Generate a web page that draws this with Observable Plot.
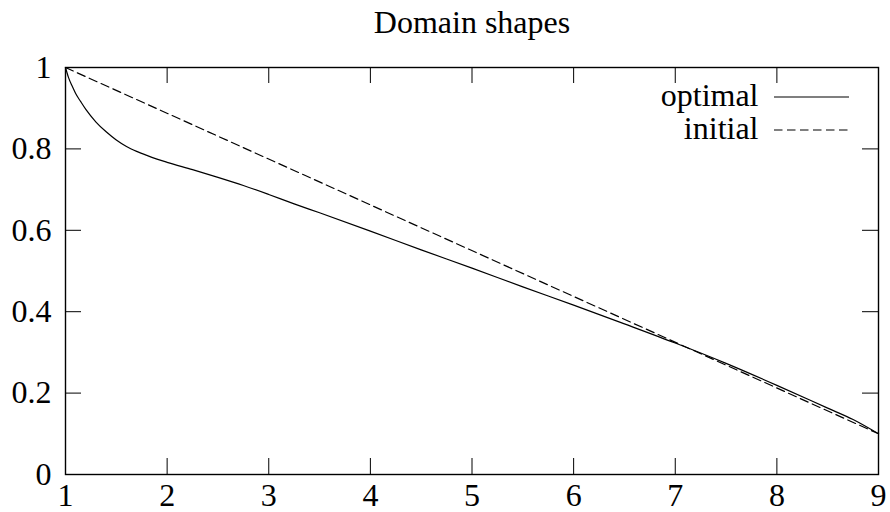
<!DOCTYPE html>
<html><head><meta charset="utf-8">
<script src="https://cdn.jsdelivr.net/npm/d3@7"></script>
<script src="https://cdn.jsdelivr.net/npm/@observablehq/plot@0.6"></script>
<style>body{margin:0;background:#fff;}</style>
</head><body><div id="chart"></div>
<script>
const title = "Domain shapes";
const seriesNames = ["optimal", "initial"];
const optimalX = [1, 1.03, 1.07, 1.1, 1.15, 1.2, 1.3, 1.4, 1.5, 1.6, 1.7, 1.8, 1.9, 2, 2.25, 2.5, 2.75, 3, 3.25, 3.5, 4, 4.5, 5, 5.5, 6, 6.5, 7, 7.5, 8, 8.5, 8.75, 9];
const optimalY = [1, 0.975, 0.952, 0.936, 0.916, 0.897, 0.866, 0.842, 0.822, 0.806, 0.794, 0.784, 0.775, 0.767, 0.749, 0.730, 0.710, 0.688, 0.665, 0.643, 0.598, 0.552, 0.507, 0.461, 0.416, 0.370, 0.323, 0.273, 0.219, 0.163, 0.135, 0.1];
const initialX = [1, 9];
const initialY = [1, 0.1];
const xTicks = [1, 2, 3, 4, 5, 6, 7, 8, 9];
const yTicks = [0, 0.2, 0.4, 0.6, 0.8, 1];
const yTickLabels = ["0", "0.2", "0.4", "0.6", "0.8", "1"];

const optimal = optimalX.map((x, i) => ({x, y: optimalY[i]}));
const initial = initialX.map((x, i) => ({x, y: initialY[i]}));

const W = 890, H = 512, mL = 65, mR = 12, mT = 67, mB = 38;
const pw = W - mL - mR, ph = H - mT - mB, tick = 16;
const font = "Liberation Serif, Times New Roman, serif";
const fs = 32;
const dash = "8.5,4.5";

const chart = Plot.plot({
  width: W, height: H,
  marginLeft: mL, marginRight: mR, marginTop: mT, marginBottom: mB,
  style: {fontFamily: font, background: "#fff", color: "#000"},
  x: {domain: [1, 9], axis: null},
  y: {domain: [0, 1], axis: null},
  marks: [
    Plot.tickX(xTicks, {x: d => d, insetTop: ph - tick, stroke: "#000", strokeWidth: 1}),
    Plot.tickX(xTicks, {x: d => d, insetBottom: ph - tick, stroke: "#000", strokeWidth: 1}),
    Plot.tickY(yTicks, {y: d => d, insetRight: pw - tick, stroke: "#000", strokeWidth: 1}),
    Plot.tickY(yTicks, {y: d => d, insetLeft: pw - tick, stroke: "#000", strokeWidth: 1}),
    Plot.line(initial, {x: "x", y: "y", stroke: "#000", strokeWidth: 1.2, strokeDasharray: dash}),
    Plot.line(optimal, {x: "x", y: "y", stroke: "#000", strokeWidth: 1.2, curve: "monotone-x"}),
    Plot.frame({stroke: "#000", strokeWidth: 1.4}),
    Plot.text(yTicks, {y: d => d, text: (d, i) => yTickLabels[i], frameAnchor: "left", textAnchor: "end", dx: -14, fontSize: fs, fill: "#000"}),
    Plot.text(xTicks, {x: d => d, text: d => String(d), frameAnchor: "bottom", lineAnchor: "middle", dy: 21, fontSize: fs, fill: "#000"}),
    Plot.text([title], {text: d => d, frameAnchor: "top", lineAnchor: "middle", dy: -45, fontSize: fs, fill: "#000"}),
    Plot.text([seriesNames[0]], {text: d => d, frameAnchor: "top-right", textAnchor: "end", lineAnchor: "middle", dx: -120, dy: 28, fontSize: fs, fill: "#000"}),
    Plot.text([seriesNames[1]], {text: d => d, frameAnchor: "top-right", textAnchor: "end", lineAnchor: "middle", dx: -120, dy: 61, fontSize: fs, fill: "#000"})
  ]
});
document.getElementById("chart").appendChild(chart);

// legend sample lines
const svg = d3.select(chart);
const lx1 = W - mR - 104, lx2 = W - mR - 29;
[[97, null], [130, dash]].forEach(([y, da]) => {
  svg.append("line").attr("x1", lx1).attr("x2", lx2).attr("y1", y).attr("y2", y)
    .attr("stroke", "#000").attr("stroke-width", 1.2).attr("stroke-dasharray", da);
});
</script>
</body></html>
